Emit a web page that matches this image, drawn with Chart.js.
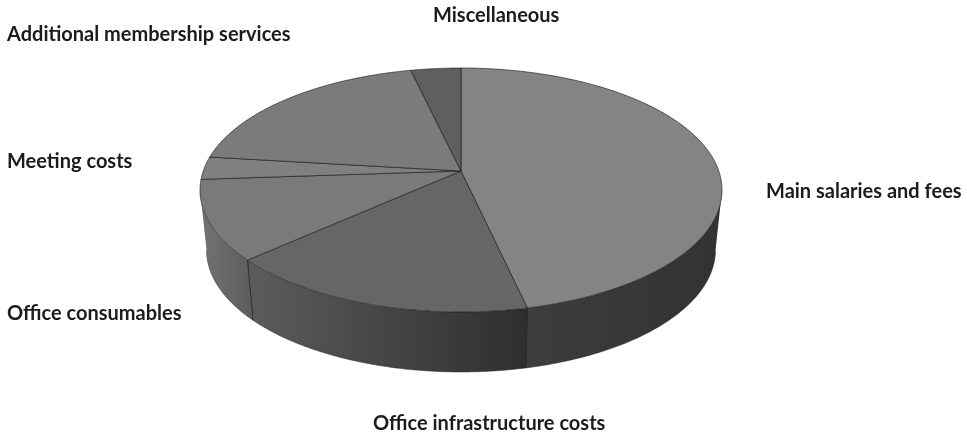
<!DOCTYPE html>
<html><head><meta charset="utf-8">
<style>html,body{margin:0;padding:0;background:#fff}#wrap{width:967px;height:433px;position:relative}</style>
<script src="https://cdn.jsdelivr.net/npm/chart.js@4"></script>
</head><body><div id="wrap"><canvas id="c" width="967" height="433"></canvas></div>
<script>
const categories = ["Main salaries and fees","Office infrastructure costs","Office consumables","Meeting costs","Additional membership services","Miscellaneous"];
const shares = [46.5,16.8,10.6,3.0,19.5,3.6];
const topColours = ["#848484","#666666","#7a7a7a","#808080","#7b7b7b","#5f5f5f"];
const sideLeft = ["#3d3d3d","#5c5c5c","#737373","#737373","#737373","#555555"];
const sideRight = ["#323232","#2e2e2e","#5f5f5f","#666666","#666666","#555555"];
const labelX = [766,373,7,7,7,433];
const labelY = [192,424,314,162,35,16];

const CX=461, CY=171, PC=-0.1557, PA=92.4, PX=257.8, DEPTH=60, SHRINK=0.975;
const rim=a=>{const u=Math.cos(a),v=Math.sin(a),d=1+PC*v;return [CX+PX*u/d,(PA*v+CY)/d];};
const low=p=>[CX+(p[0]-CX)*SHRINK,p[1]+DEPTH];
const line='rgba(25,25,25,0.62)';

const pie3d={
  id:'pie3d',
  beforeDatasetDraw(chart,args){
    const ctx=chart.ctx, arcs=chart.getDatasetMeta(args.index).data;
    const V=-PC;
    ctx.save();
    ctx.lineWidth=1; ctx.lineJoin='round';
    arcs.forEach((el,i)=>{
      const {startAngle:s,endAngle:e}=el.getProps(['startAngle','endAngle'],true);
      const pts=[];
      for(let k=0;k<=160;k++){const a=s+(e-s)*k/160;if(Math.sin(a)>=V-0.002)pts.push(rim(a));}
      if(pts.length<2)return;
      const xs=pts.map(p=>p[0]);
      const grad=ctx.createLinearGradient(Math.min(...xs),0,Math.max(...xs),0);
      grad.addColorStop(0,sideLeft[i]);grad.addColorStop(1,sideRight[i]);
      ctx.beginPath();
      pts.forEach((p,k)=>k?ctx.lineTo(p[0],p[1]):ctx.moveTo(p[0],p[1]));
      pts.slice().reverse().forEach(p=>{const q=low(p);ctx.lineTo(q[0],q[1]);});
      ctx.closePath(); ctx.fillStyle=grad; ctx.fill();
      ctx.beginPath();
      pts.forEach((p,k)=>{const q=low(p);k?ctx.lineTo(q[0],q[1]):ctx.moveTo(q[0],q[1]);});
      ctx.strokeStyle='rgba(40,40,40,0.5)'; ctx.stroke();
      [pts[0],pts[pts.length-1]].forEach((p,idx)=>{
        const isEdge=(idx===0?Math.sin(s):Math.sin(e))>V+0.05;
        if(!isEdge)return;
        const q=low(p);ctx.beginPath();ctx.moveTo(p[0],p[1]);ctx.lineTo(q[0],q[1]);ctx.strokeStyle=line;ctx.stroke();
      });
    });
    arcs.forEach((el,i)=>{
      const {startAngle:s,endAngle:e}=el.getProps(['startAngle','endAngle'],true);
      ctx.beginPath(); ctx.moveTo(CX,CY);
      for(let k=0;k<=120;k++){const p=rim(s+(e-s)*k/120);ctx.lineTo(p[0],p[1]);}
      ctx.closePath(); ctx.fillStyle=topColours[i]; ctx.fill();
      ctx.strokeStyle=line; ctx.lineWidth=1; ctx.stroke();
    });
    ctx.restore();
    return false;
  },
  afterDatasetsDraw(chart){
    const ctx=chart.ctx;
    ctx.save();
    ctx.font='bold 20px Lato, sans-serif';
    ctx.fillStyle='#1c1c1c';
    ctx.textBaseline='middle'; ctx.textAlign='left';
    categories.forEach((t,i)=>ctx.fillText(t,labelX[i],labelY[i]));
    ctx.restore();
  }
};
new Chart(document.getElementById('c'),{
  type:'pie',
  data:{labels:categories,datasets:[{data:shares,backgroundColor:topColours,borderWidth:0}]},
  options:{responsive:false,animation:false,plugins:{legend:{display:false},tooltip:{enabled:false}}},
  plugins:[pie3d]
});
</script></body></html>
